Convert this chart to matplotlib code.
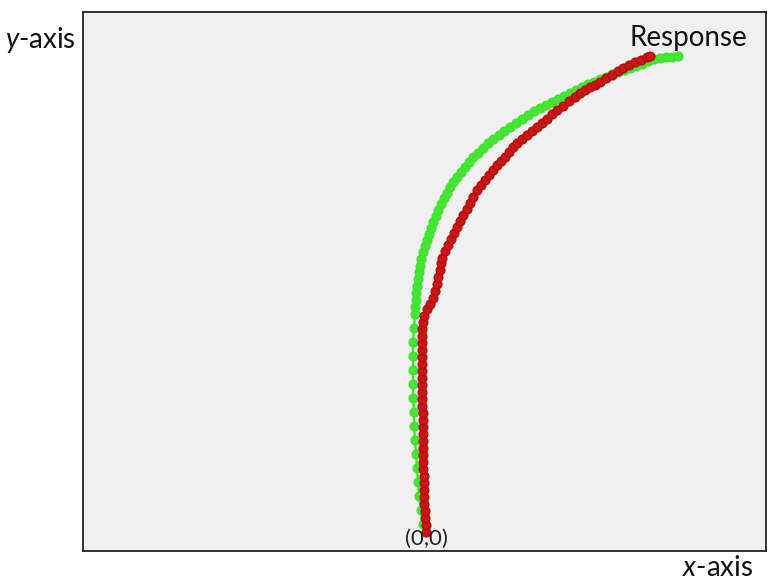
import matplotlib
matplotlib.use('Agg')
import matplotlib.pyplot as plt

plt.rcParams['font.family'] = ['Lato', 'DejaVu Sans']
plt.rcParams['mathtext.fontset'] = 'custom'
plt.rcParams['mathtext.it'] = 'Lato:italic'
plt.rcParams['mathtext.rm'] = 'Lato'

# green trajectory (origin at the start point of the red one)
green_x = [-3, -5, -7, -8, -9, -10, -11, -12, -12, -13, -13, -13, -13, -13, -12,
           -11, -11, -10, -10, -9, -8, -7, -6, -5, -3, -1, 1, 3, 5, 7, 10, 12,
           15, 18, 21, 24, 27, 31, 35, 39, 43, 47, 52, 57, 62, 67, 73, 78, 84, 90, 96,
           102, 108, 114, 120, 126, 132, 138, 144, 150, 156, 162, 168, 174, 180, 186,
           192, 198, 204, 210, 216, 222, 228, 234, 240, 246, 252]
green_y = [8, 22, 36, 50, 64, 78, 92, 106, 120, 134, 148, 162, 176, 190, 204,
           218, 225, 232, 239, 246, 253, 260, 266, 273, 280, 286, 292, 298,
           304, 310, 316, 322, 328, 334, 339, 345, 350, 355, 360, 365, 370, 375, 379,
           384, 389, 393, 397, 401, 405, 409, 413, 417, 421, 424, 427, 430, 433, 436,
           439, 442, 445, 448, 450, 453, 455, 458, 460, 462, 464, 466, 468, 471, 473,
           474, 475, 475, 476]

# red trajectory
red_x = [0, 0, -1, -1, -2, -2, -2, -2, -2, -3, -3, -3, -3, -3, -3, -3, -3, -3,
         -4, -4, -4, -4, -4, -4, -4, -4, -4, -4, -4, -4,
         -3, -2, 1, 4, 7, 9, 11, 12, 14, 15, 16, 19, 22, 25, 28, 31, 34, 37, 41, 44,
         47, 51, 55, 59, 63, 67, 71, 75, 79, 83, 87, 91, 96, 101, 106, 111, 116, 121,
         126, 131, 137, 143, 149, 154, 159, 164, 169, 174, 180, 186, 192, 197, 203,
         209, 215, 221, 224]
red_y = [0, 7, 14, 21, 28, 35, 42, 49, 56, 63, 70, 77, 84, 91, 98, 105, 112, 119,
         126, 133, 140, 147, 154, 161, 168, 175, 182, 189, 196, 203,
         210, 216, 223, 228, 234, 241, 248, 255, 262, 269, 274, 281, 287, 293, 299,
         305, 311, 317, 323, 329, 335, 342, 347, 352, 357, 362, 367, 371, 375, 380,
         385, 389, 393, 397, 401, 405, 409, 413, 418, 422, 426, 431, 435, 439, 442,
         445, 447, 450, 454, 457, 461, 464, 467, 470, 472, 475, 476]

fig = plt.figure(figsize=(7.72, 5.82), dpi=100)
ax = fig.add_axes([83/772, 31/582, 683/772, 539/582])
ax.set_facecolor('#f0f0f0')

ax.plot(green_x, green_y, '-o', color='#3ee02c', lw=1.6, ms=6.3,
        mec='#40e22e', mfc='#44e633')
ax.plot(red_x, red_y, '-o', color='#c41212', lw=1.6, ms=6.3,
        mec='#b01010', mfc='#cc1515')

ax.set_xlim(-343, 340)
ax.set_ylim(-19, 520)
ax.set_xticks([])
ax.set_yticks([])
for s in ax.spines.values():
    s.set_linewidth(1.3)
    s.set_color('#222222')

ax.text(0, -7, '(0,0)', ha='center', va='center', fontsize=16, color='#222222')
fig.text(688/772, 1 - 38/582, 'Response', ha='center', va='center', fontsize=20, color='#111111')
fig.text(40/772, 1 - 40/582, r'$\it{y}$-axis', ha='center', va='center', fontsize=20, color='#111111')
fig.text(718/772, 1 - 568/582, r'$\it{x}$-axis', ha='center', va='center', fontsize=20, color='#111111')

fig.savefig('out.png', dpi=100)
